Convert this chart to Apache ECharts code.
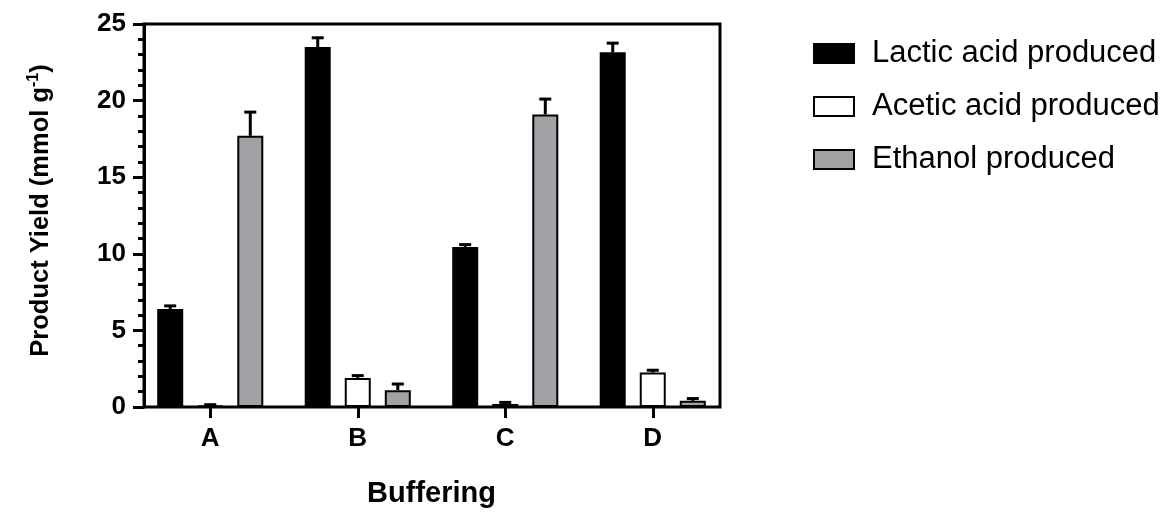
<!DOCTYPE html>
<html>
<head>
<meta charset="utf-8">
<script src="https://cdn.jsdelivr.net/npm/echarts@6/dist/echarts.min.js"></script>
<style>
  html, body { margin: 0; padding: 0; background: #fff; }
  #chart { width: 1172px; height: 514px; }
</style>
</head>
<body>
<div id="chart"></div>
<script>
// 数据
const categories = ['A', 'B', 'C', 'D']
const lactic = [6.4, 23.5, 10.45, 23.15]
const lacticErr = [0.2, 0.6, 0.15, 0.6]
const acetic = [0.1, 1.9, 0.2, 2.25]
const aceticErr = [0.05, 0.15, 0.1, 0.15]
const ethanol = [17.7, 1.1, 19.1, 0.4]
const ethanolErr = [1.55, 0.4, 1.0, 0.15]
const yTicks = [0, 5, 10, 15, 20, 25]

const FONT = '"Liberation Sans", Arial, sans-serif'
const BAR_WIDTH = 26
const BAR_GAP = 0.54
const STEP = BAR_WIDTH * (1 + BAR_GAP)

// 误差线 (只画正向)
function errorItem (offset) {
  return function (params, api) {
    const base = api.coord([api.value(0), api.value(1)])
    const top = api.coord([api.value(0), api.value(1) + api.value(2)])
    const x = base[0] + offset
    const style = { stroke: '#000', lineWidth: 3 }
    return {
      type: 'group',
      children: [
        { type: 'line', shape: { x1: x, y1: base[1], x2: x, y2: top[1] }, style },
        { type: 'line', shape: { x1: x - 6, y1: top[1], x2: x + 6, y2: top[1] }, style }
      ]
    }
  }
}

function errData (vals, errs) {
  return vals.map((v, i) => [i, v, errs[i]])
}

function barSeries (name, data, color) {
  return {
    name,
    type: 'bar',
    xAxisIndex: 1,
    yAxisIndex: 1,
    data,
    barWidth: BAR_WIDTH,
    barGap: (BAR_GAP * 100) + '%',
    itemStyle: { color, borderColor: '#000', borderWidth: 2 },
    emphasis: { disabled: true }
  }
}

function errSeries (name, vals, errs, k) {
  return {
    name,
    type: 'custom',
    xAxisIndex: 1,
    yAxisIndex: 1,
    data: errData(vals, errs),
    renderItem: errorItem((k - 1) * STEP),
    z: 5,
    silent: true
  }
}

const chart = echarts.init(document.getElementById('chart'))

chart.setOption({
  animation: false,
  backgroundColor: '#fff',
  textStyle: { fontFamily: FONT },
  grid: [
    // 外框 + y 轴
    { left: 144, right: 452, top: 24, bottom: 107, show: true, borderColor: '#000', borderWidth: 3 },
    // 柱子
    { left: 136.5, right: 445.5, top: 24, bottom: 107 }
  ],
  legend: {
    data: ['Lactic acid produced', 'Acetic acid produced', 'Ethanol produced'],
    orient: 'vertical',
    left: 808,
    top: 33,
    icon: 'rect',
    itemWidth: 40,
    itemHeight: 19,
    itemGap: 22,
    selectedMode: false,
    textStyle: { fontFamily: FONT, fontSize: 31, color: '#000', lineHeight: 30, padding: [0, 0, 0, 13] }
  },
  xAxis: [
    { type: 'category', gridIndex: 0, data: categories, show: false },
    {
      type: 'category',
      gridIndex: 1,
      data: categories,
      axisLine: { show: false },
      axisTick: { show: true, alignWithLabel: true, length: 11, lineStyle: { color: '#000', width: 3 } },
      axisLabel: { color: '#000', fontSize: 26, fontWeight: 'bold', fontFamily: FONT, margin: 19 },
      name: 'Buffering',
      nameLocation: 'middle',
      nameGap: 72,
      nameTextStyle: { color: '#000', fontSize: 29, fontWeight: 'bold', fontFamily: FONT }
    }
  ],
  yAxis: [
    {
      type: 'value',
      gridIndex: 0,
      min: yTicks[0],
      max: yTicks[yTicks.length - 1],
      interval: yTicks[1] - yTicks[0],
      axisLine: { show: true, lineStyle: { color: '#000', width: 3 } },
      axisTick: { show: true, length: 11, lineStyle: { color: '#000', width: 3 } },
      minorTick: { show: true, splitNumber: 5, length: 6, lineStyle: { color: '#000', width: 3 } },
      splitLine: { show: false },
      axisLabel: { color: '#000', fontSize: 26, fontWeight: 'bold', fontFamily: FONT, margin: 18 },
      name: 'Product Yield (mmol g{sup|-1})',
      nameLocation: 'middle',
      nameRotate: 90,
      nameGap: 88,
      nameTextStyle: {
        color: '#000',
        fontSize: 25.5,
        fontWeight: 'bold',
        fontFamily: FONT,
        lineHeight: 30,
        padding: [0, 0, 0, 10],
        rich: {
          sup: { fontSize: 16, fontWeight: 'bold', fontFamily: FONT, color: '#000', verticalAlign: 'top', lineHeight: 30, padding: [0, 0, 14, 0] }
        }
      }
    },
    { type: 'value', gridIndex: 1, min: 0, max: 25, show: false }
  ],
  series: [
    barSeries('Lactic acid produced', lactic, '#000'),
    barSeries('Acetic acid produced', acetic, '#fff'),
    barSeries('Ethanol produced', ethanol, '#a2a2a6'),
    errSeries('err-lactic', lactic, lacticErr, 0),
    errSeries('err-acetic', acetic, aceticErr, 1),
    errSeries('err-ethanol', ethanol, ethanolErr, 2)
  ]
})
</script>
</body>
</html>
